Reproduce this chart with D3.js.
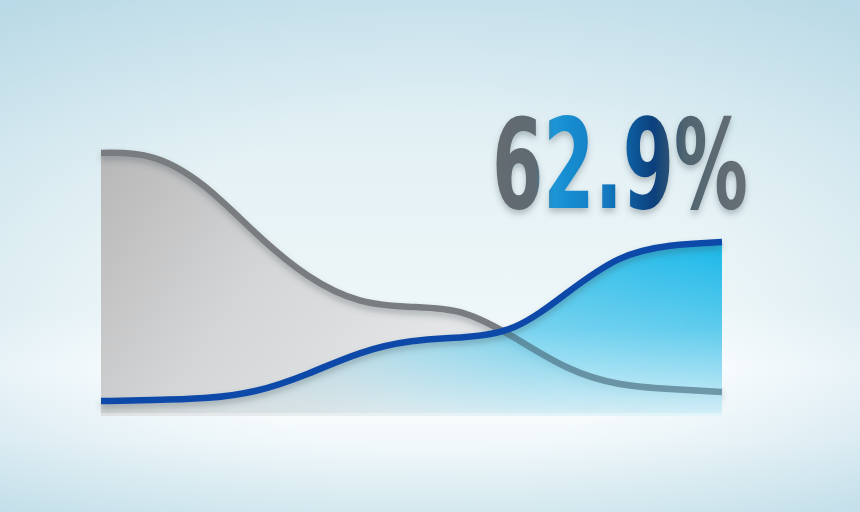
<html>
<head>
<script src="https://cdn.jsdelivr.net/npm/d3@7"></script>
<style>
  body { margin: 0; overflow: hidden; }
</style>
</head>
<body>
<svg width="860" height="512"></svg>
<script>
// values, 13 evenly spaced steps (control points of a smooth curve)
var steps = [0,1,2,3,4,5,6,7,8,9,10,11,12]
var greySeries = [95.1, 95.3, 84.4, 65.4, 49.6, 40.5, 39.3, 38.9, 28.4, 16.6, 10.9, 9.7, 8.7]
var blueSeries = [5.4, 5.75, 6.2, 8.4, 15.0, 23.35, 27.6, 28.3, 30.2, 44.5, 58.3, 62.0, 62.9]
var headline = '62.9%'

var svg = d3.select('svg')
var defs = svg.append('defs')

var x = d3.scaleLinear().domain([0, 12]).range([101, 722])
var y = d3.scaleLinear().domain([0, 100]).range([416, 139.4])

// background
var bg = defs.append('linearGradient').attr('id', 'bg').attr('x1', 0).attr('y1', 0).attr('x2', 0).attr('y2', 1)
bg.append('stop').attr('offset', 0).attr('stop-color', '#d3e8f0')
bg.append('stop').attr('offset', 0.3).attr('stop-color', '#e4f1f5')
bg.append('stop').attr('offset', 0.6).attr('stop-color', '#edf6f8')
bg.append('stop').attr('offset', 0.72).attr('stop-color', '#fcfeff')
bg.append('stop').attr('offset', 0.86).attr('stop-color', '#f3f9fb')
bg.append('stop').attr('offset', 1).attr('stop-color', '#dcedf2')

var vig = defs.append('radialGradient').attr('id', 'vig').attr('cx', 0.5).attr('cy', 0.55).attr('r', 0.72)
vig.append('stop').attr('offset', 0.45).attr('stop-color', '#a6cfdf').attr('stop-opacity', 0)
vig.append('stop').attr('offset', 1).attr('stop-color', '#93c4d8').attr('stop-opacity', 0.4)

svg.append('rect').attr('width', 860).attr('height', 512).attr('fill', 'url(#bg)')
svg.append('rect').attr('width', 860).attr('height', 512).attr('fill', 'url(#vig)')

// fills
var greyFill = defs.append('linearGradient').attr('id', 'greyFill').attr('x1', 0).attr('y1', 0).attr('x2', 1).attr('y2', 0.3)
greyFill.append('stop').attr('offset', 0).attr('stop-color', '#b7b7b8')
greyFill.append('stop').attr('offset', 0.35).attr('stop-color', '#d4d5d6')
greyFill.append('stop').attr('offset', 0.7).attr('stop-color', '#e3e5e6')
greyFill.append('stop').attr('offset', 1).attr('stop-color', '#dfe6e9')

var blueFill = defs.append('linearGradient').attr('id', 'blueFill')
    .attr('gradientUnits', 'userSpaceOnUse').attr('x1', 0).attr('y1', 240).attr('x2', 0).attr('y2', 416)
blueFill.append('stop').attr('offset', 0).attr('stop-color', '#0cb3e7')
blueFill.append('stop').attr('offset', 0.5).attr('stop-color', '#55c8ec')
blueFill.append('stop').attr('offset', 1).attr('stop-color', '#d4eff7')

var fade = defs.append('linearGradient').attr('id', 'fade')
    .attr('gradientUnits', 'userSpaceOnUse').attr('x1', 101).attr('y1', 0).attr('x2', 722).attr('y2', 0)
fade.append('stop').attr('offset', 0).attr('stop-color', 'white').attr('stop-opacity', 0.05)
fade.append('stop').attr('offset', 0.4).attr('stop-color', 'white').attr('stop-opacity', 0.35)
fade.append('stop').attr('offset', 0.7).attr('stop-color', 'white').attr('stop-opacity', 0.8)
fade.append('stop').attr('offset', 1).attr('stop-color', 'white').attr('stop-opacity', 0.95)
defs.append('mask').attr('id', 'fadeMask')
    .append('rect').attr('x', 0).attr('y', 0).attr('width', 860).attr('height', 512).attr('fill', 'url(#fade)')

var shadow = defs.append('filter').attr('id', 'shadow').attr('x', -0.1).attr('y', -0.3).attr('width', 1.2).attr('height', 1.6)
shadow.append('feDropShadow').attr('dx', 0).attr('dy', 4).attr('stdDeviation', 3)
    .attr('flood-color', '#40525c').attr('flood-opacity', 0.35)

var curve = d3.curveBasis
var area = d3.area().x(function(d, i){ return x(steps[i]) }).y0(y(0)).y1(function(d){ return y(d) }).curve(curve)
var line = d3.line().x(function(d, i){ return x(steps[i]) }).y(function(d){ return y(d) }).curve(curve)

defs.append('clipPath').attr('id', 'blueClip').append('path').attr('d', area(blueSeries))

svg.append('path').attr('d', area(greySeries)).attr('fill', 'url(#greyFill)')
svg.append('path').attr('d', line(greySeries))
    .attr('fill', 'none').attr('stroke', '#7a7d80').attr('stroke-width', 6.5)
    .attr('filter', 'url(#shadow)')

svg.append('path').attr('d', area(blueSeries)).attr('fill', 'url(#blueFill)').attr('mask', 'url(#fadeMask)')

// grey line showing through the blue fill
svg.append('path').attr('d', line(greySeries))
    .attr('clip-path', 'url(#blueClip)')
    .attr('fill', 'none').attr('stroke', '#587f90').attr('stroke-width', 6.5)
    .attr('opacity', 0.75)

// light edge along the bottom
svg.append('rect').attr('x', x(0)).attr('y', y(0) - 3).attr('width', x(12) - x(0)).attr('height', 3)
    .attr('fill', '#ffffff').attr('opacity', 0.35)

svg.append('path').attr('d', line(blueSeries))
    .attr('fill', 'none').attr('stroke', '#0b4aa8').attr('stroke-width', 6.5)
    .attr('filter', 'url(#shadow)')

// headline number
var tg = defs.append('linearGradient').attr('id', 'textFill')
    .attr('gradientUnits', 'userSpaceOnUse').attr('x1', 492).attr('y1', 0).attr('x2', 748).attr('y2', 0)
tg.append('stop').attr('offset', 0).attr('stop-color', '#656c70')
tg.append('stop').attr('offset', 0.17).attr('stop-color', '#5f6a72')
tg.append('stop').attr('offset', 0.24).attr('stop-color', '#1b95d6')
tg.append('stop').attr('offset', 0.45).attr('stop-color', '#1278bf')
tg.append('stop').attr('offset', 0.63).attr('stop-color', '#0a3f7c')
tg.append('stop').attr('offset', 0.75).attr('stop-color', '#4f6470')
tg.append('stop').attr('offset', 1).attr('stop-color', '#6a7075')

svg.append('text')
    .attr('x', 492).attr('y', 208)
    .attr('textLength', 256).attr('lengthAdjust', 'spacingAndGlyphs')
    .style('font-family', '"DejaVu Sans Condensed", "Liberation Sans Narrow", sans-serif')
    .style('font-weight', 'bold')
    .style('font-size', '124px')
    .attr('fill', 'url(#textFill)')
    .attr('filter', 'url(#shadow)')
    .text(headline)
</script>
</body>
</html>
